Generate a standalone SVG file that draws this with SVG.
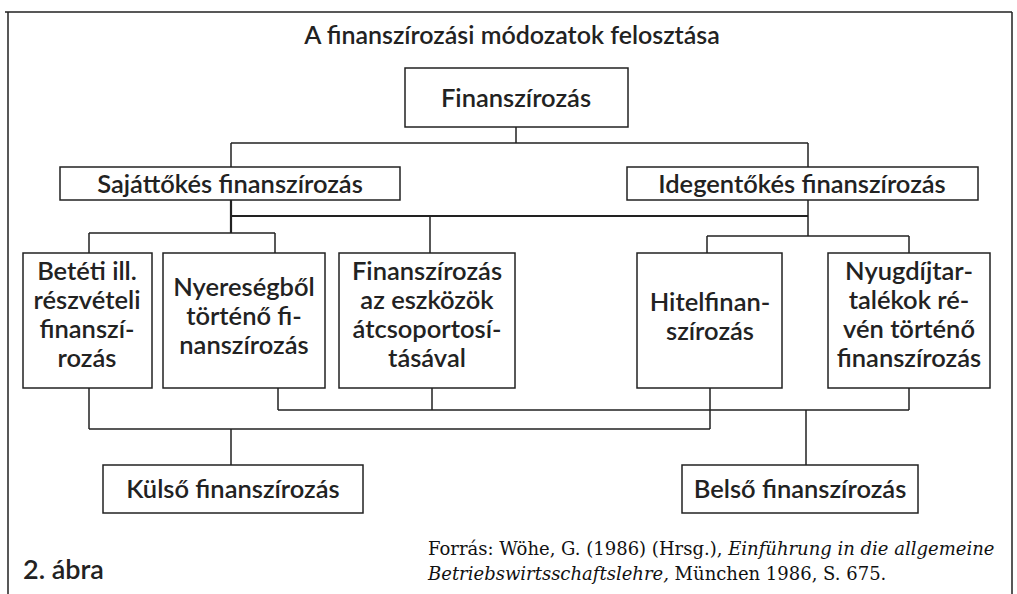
<svg xmlns="http://www.w3.org/2000/svg" width="1017" height="594" viewBox="0 0 1017 594">
<style>
.bx{fill:#fff;stroke:#222;stroke-width:1.5}
.t{font-family:Lato,"Open Sans",sans-serif;font-size:25.5px;font-weight:600;fill:#222;text-anchor:middle}
.c{fill:none;stroke:#222;stroke-width:1.5}
.src{font-family:"DejaVu Serif",serif;font-size:18px;fill:#111}
</style>
<rect width="1017" height="594" fill="#fff"/>
<g id="frame" class="c"><path d="M5 12H1012M8 12V594M1012 12V594"/></g>
<text id="title" class="t" x="512" y="44" style="font-size:25px">A finanszírozási módozatok felosztása</text>
<g id="connectors" class="c">
<path d="M516 127V143M231 143H808M231 143V167M808 143V167"/>
<path d="M231 200V233M231 216H808" style="stroke-width:2.2"/>
<path d="M808 200V236M430 216V253"/>
<path d="M89 233H275M89 233V253M275 233V253"/>
<path d="M707 236H909M707 236V253M909 236V253"/>
<path d="M278 388V410M432 388V410M909 388V410M278 410H909"/>
<path d="M710 388V429M89 388V429M89 429H710M231 429V465M806 410V465"/>
</g>
<g id="n-fin"><rect class="bx" x="405" y="68" width="223" height="59"/><text class="t" x="516" y="107">Finanszírozás</text></g>
<g id="n-saj"><rect class="bx" x="60" y="167" width="340" height="33"/><text class="t" x="230" y="193">Sajáttőkés finanszírozás</text></g>
<g id="n-ide"><rect class="bx" x="627" y="167" width="351" height="33"/><text class="t" x="802" y="193">Idegentőkés finanszírozás</text></g>
<g id="n-bet"><rect class="bx" x="23" y="253" width="129" height="135"/><text class="t"><tspan x="87" y="280">Betéti ill.</tspan><tspan x="87" y="309">részvételi</tspan><tspan x="87" y="338">finanszí-</tspan><tspan x="87" y="367">rozás</tspan></text></g>
<g id="n-nye"><rect class="bx" x="163" y="253" width="162" height="135"/><text class="t"><tspan x="244" y="296">Nyereségből</tspan><tspan x="244" y="325">történő fi-</tspan><tspan x="244" y="354">nanszírozás</tspan></text></g>
<g id="n-esz"><rect class="bx" x="339" y="253" width="176" height="135"/><text class="t"><tspan x="427" y="280">Finanszírozás</tspan><tspan x="427" y="309">az eszközök</tspan><tspan x="427" y="338">átcsoportosí-</tspan><tspan x="427" y="367">tásával</tspan></text></g>
<g id="n-hit"><rect class="bx" x="637" y="253" width="145" height="135"/><text class="t"><tspan x="710" y="311">Hitelfinan-</tspan><tspan x="710" y="340">szírozás</tspan></text></g>
<g id="n-nyu"><rect class="bx" x="828" y="253" width="162" height="135"/><text class="t"><tspan x="909" y="280">Nyugdíjtar-</tspan><tspan x="909" y="309">talékok ré-</tspan><tspan x="909" y="338">vén történő</tspan><tspan x="909" y="367">finanszírozás</tspan></text></g>
<g id="n-kul"><rect class="bx" x="103" y="465" width="260" height="48"/><text class="t" x="233" y="498">Külső finanszírozás</text></g>
<g id="n-bel"><rect class="bx" x="682" y="465" width="236" height="48"/><text class="t" x="800" y="498">Belső finanszírozás</text></g>
<text id="fig" class="t" x="23" y="579" style="text-anchor:start;font-size:27px">2. ábra</text>
<text id="src" class="src"><tspan x="428" y="555">Forrás: Wöhe, G. (1986) (Hrsg.), <tspan font-style="italic">Einführung in die allgemeine</tspan></tspan><tspan x="428" y="580"><tspan font-style="italic">Betriebswirtsschaftslehre,</tspan> München 1986, S. 675.</tspan></text>
</svg>
